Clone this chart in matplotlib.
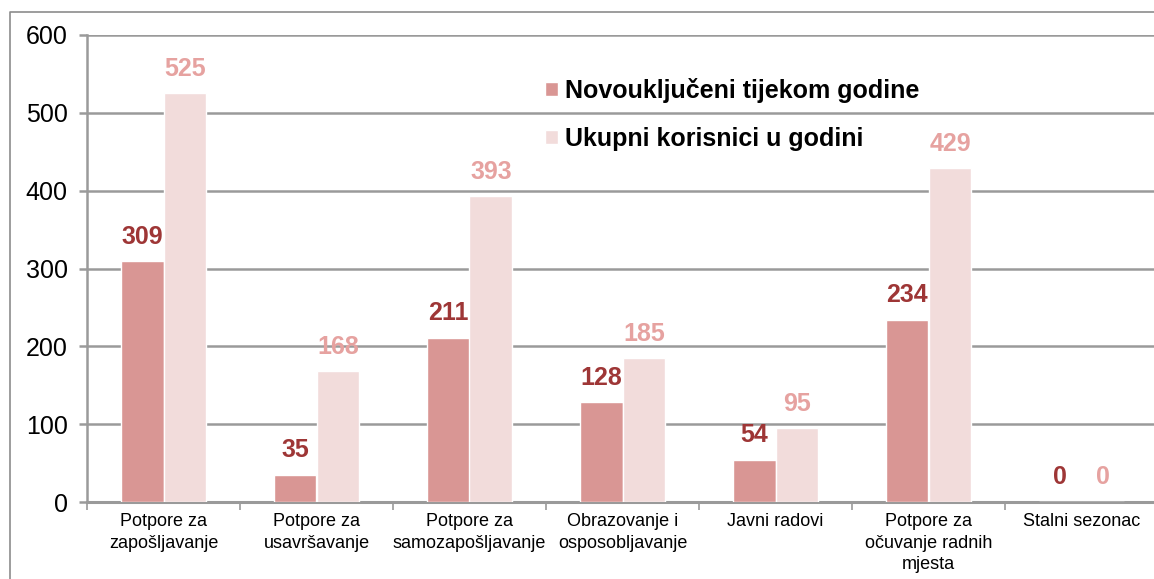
import matplotlib
matplotlib.use("Agg")
import matplotlib.pyplot as plt
from matplotlib import font_manager
from matplotlib.lines import Line2D
from matplotlib.patches import Patch
import numpy as np

categories = ["Potpore za\nzapošljavanje", "Potpore za\nusavršavanje", "Potpore za\nsamozapošljavanje",
              "Obrazovanje i\nosposobljavanje", "Javni radovi", "Potpore za\nočuvanje radnih\nmjesta",
              "Stalni sezonac"]
novoukljuceni = [309, 35, 211, 128, 54, 234, 0]
ukupni = [525, 168, 393, 185, 95, 429, 0]
series_names = ["Novouključeni tijekom godine", "Ukupni korisnici u godini"]
yticks = [0, 100, 200, 300, 400, 500, 600]

c1, c2 = "#D99694", "#F2DCDB"
l1, l2 = "#9E3636", "#E6A2A0"
grid_c = "#9A9A9A"

names = {f.name for f in font_manager.fontManager.ttflist}
narrow = "Liberation Sans Narrow" if "Liberation Sans Narrow" in names else "Liberation Sans"
plt.rcParams['font.family'] = ['Liberation Sans', 'DejaVu Sans']

W, H = 1154, 579
fig = plt.figure(figsize=(W/100, H/100), dpi=100)
ax = fig.add_axes([87/W, 1-502/H, (1158-87)/W, (502-35)/H])

x = np.arange(len(categories))
bw = 0.281
ax.bar(x - bw/2, novoukljuceni, bw, color=c1, edgecolor="white", linewidth=1, zorder=3)
ax.bar(x + bw/2, ukupni, bw, color=c2, edgecolor="white", linewidth=1, zorder=3)

for xi, v in zip(x - bw/2, novoukljuceni):
    ax.annotate(str(v), (xi, v), xytext=(0, 9), textcoords="offset points", ha="center", va="bottom",
                fontsize=18, fontweight="bold", color=l1)
for xi, v in zip(x + bw/2, ukupni):
    ax.annotate(str(v), (xi, v), xytext=(0, 9), textcoords="offset points", ha="center", va="bottom",
                fontsize=18, fontweight="bold", color=l2)

ax.set_xlim(-0.5, len(categories) - 0.5)
ax.set_ylim(0, 600)
ax.set_yticks(yticks)
ax.set_yticklabels([str(t) for t in yticks], fontsize=18)
ax.yaxis.grid(True, color=grid_c, linewidth=1.8, zorder=0)
ax.set_axisbelow(True)
ax.tick_params(axis="y", length=6, color=grid_c, width=1.8, pad=8)

ax.set_xticks(np.arange(len(categories) + 1) - 0.5, minor=False)
ax.set_xticklabels([])
ax.tick_params(axis="x", which="major", length=6, color=grid_c, width=1.2, direction="out")
ax.set_xticks(x, minor=True)
ax.set_xticklabels(categories, minor=True, fontsize=13, fontfamily=narrow, linespacing=1.35)
ax.tick_params(axis="x", which="minor", length=0, pad=8)

for s in ["top", "right"]:
    ax.spines[s].set_visible(False)
ax.spines["left"].set_color(grid_c)
ax.spines["left"].set_linewidth(1.8)
ax.spines["bottom"].set_color(grid_c)
ax.spines["bottom"].set_linewidth(2.2)

handles = [Patch(facecolor=c1, edgecolor="white"), Patch(facecolor=c2, edgecolor="white")]
ax.legend(handles, series_names, loc="upper left", bbox_to_anchor=((535-87)/(1158-87), (502-68)/(502-35)),
          frameon=False, prop={"weight": "bold", "size": 18}, handlelength=0.5, handleheight=0.5,
          handletextpad=0.3, labelspacing=0.95, borderaxespad=0)

# outer chart border
fig.add_artist(Line2D([10/W, 10/W, 1.0], [0, 1-12/H, 1-12/H], transform=fig.transFigure,
                      color="#8C8C8C", linewidth=1.2))

fig.savefig("out.png", dpi=100)
